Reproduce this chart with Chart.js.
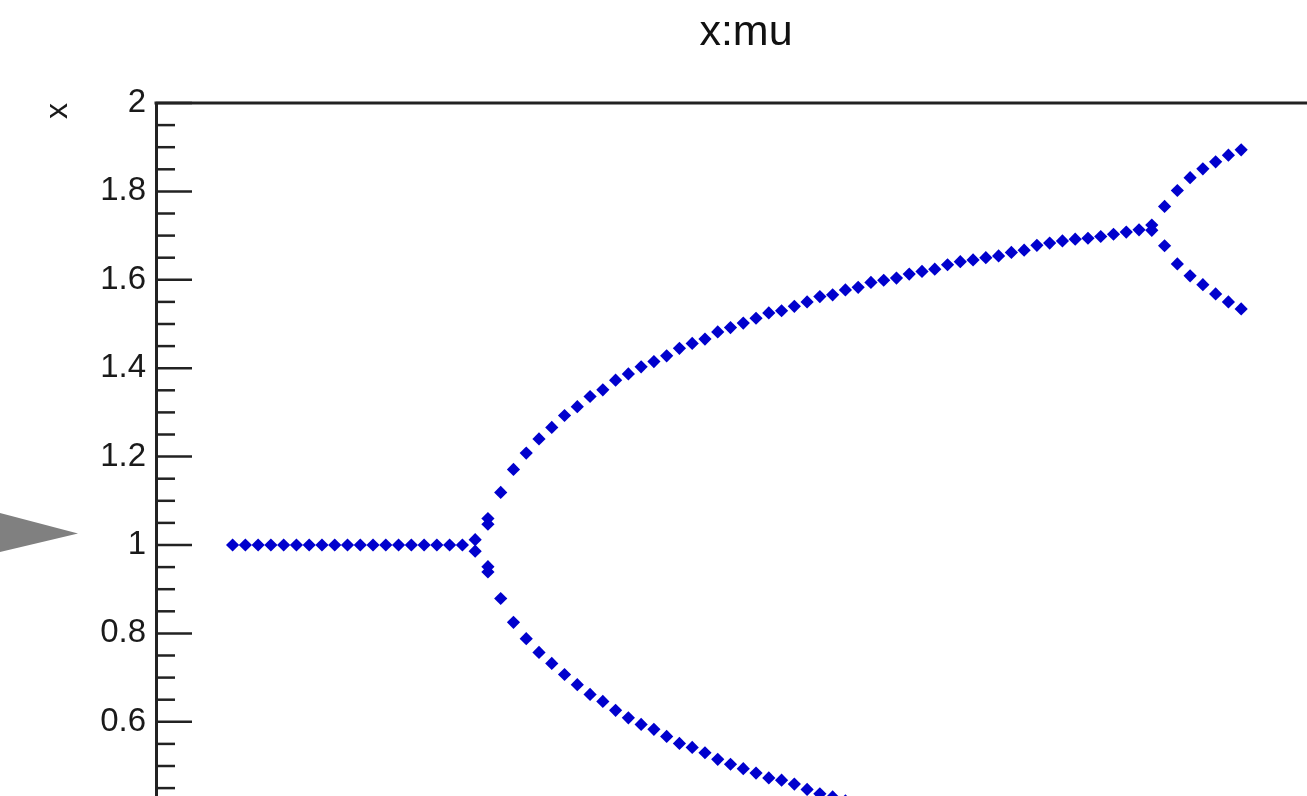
<!DOCTYPE html>
<html>
<head>
<meta charset="utf-8">
<title>x:mu</title>
<script src="https://cdn.jsdelivr.net/npm/chart.js@4/dist/chart.umd.min.js"></script>
<style>
  html, body { margin: 0; padding: 0; background: #fff; overflow: hidden; }
  canvas { display: block; }
</style>
</head>
<body>
<canvas id="bifChart" width="1492" height="1100"></canvas>
<script>
// single stable branch, x = 1
const muStable = [1.81, 1.82, 1.83, 1.84, 1.85, 1.86, 1.87, 1.88, 1.89, 1.90,
                  1.91, 1.92, 1.93, 1.94, 1.95, 1.96, 1.97, 1.98, 1.99];
const xStable  = [1, 1, 1, 1, 1, 1, 1, 1, 1, 1, 1, 1, 1, 1, 1, 1, 1, 1, 1];

// period-2 branches
const muUpper = [2.00, 2.01, 2.02, 2.03, 2.04, 2.05, 2.06, 2.07, 2.08, 2.09,
                 2.10, 2.11, 2.12, 2.13, 2.14, 2.15, 2.16, 2.17, 2.18, 2.19,
                 2.20, 2.21, 2.22, 2.23, 2.24, 2.25, 2.26, 2.27, 2.28, 2.29,
                 2.30, 2.31, 2.32, 2.33, 2.34, 2.35, 2.36, 2.37, 2.38, 2.39,
                 2.40, 2.41, 2.42, 2.43, 2.44, 2.45, 2.46, 2.47, 2.48, 2.49,
                 2.50, 2.51, 2.52, 2.53];
const xUpper  = [1.012, 1.060, 1.119, 1.171, 1.208, 1.240, 1.266, 1.293, 1.313, 1.336,
                 1.351, 1.373, 1.387, 1.403, 1.415, 1.428, 1.445, 1.456, 1.466, 1.482,
                 1.492, 1.502, 1.513, 1.525, 1.530, 1.540, 1.550, 1.562, 1.566, 1.577,
                 1.583, 1.594, 1.599, 1.604, 1.613, 1.619, 1.624, 1.634, 1.641, 1.645,
                 1.650, 1.654, 1.662, 1.667, 1.678, 1.683, 1.688, 1.692, 1.694, 1.698,
                 1.703, 1.708, 1.713, 1.724];

const muLower = [2.00, 2.01, 2.02, 2.03, 2.04, 2.05, 2.06, 2.07, 2.08, 2.09,
                 2.10, 2.11, 2.12, 2.13, 2.14, 2.15, 2.16, 2.17, 2.18, 2.19,
                 2.20, 2.21, 2.22, 2.23, 2.24, 2.25, 2.26, 2.27, 2.28, 2.29];
const xLower  = [0.986, 0.939, 0.879, 0.825, 0.788, 0.757, 0.732, 0.707, 0.684, 0.662,
                 0.646, 0.626, 0.609, 0.594, 0.583, 0.567, 0.551, 0.542, 0.530, 0.515,
                 0.504, 0.494, 0.484, 0.473, 0.468, 0.459, 0.447, 0.437, 0.430, 0.421];

// points that have not settled yet next to the splits
const muExtra = [2.01, 2.01, 2.53];
const xExtra  = [1.047, 0.951, 1.712];

// period-4 branches (upper pair)
const muP4   = [2.54, 2.55, 2.56, 2.57, 2.58, 2.59, 2.60];
const xP4Hi  = [1.766, 1.802, 1.831, 1.851, 1.867, 1.882, 1.894];
const xP4Lo  = [1.677, 1.636, 1.609, 1.589, 1.568, 1.550, 1.534];

const yTickLabels = ['0', '0.2', '0.4', '0.6', '0.8', '1', '1.2', '1.4', '1.6', '1.8', '2'];

const FONT = "'Liberation Sans', Arial, Helvetica, sans-serif";
const AXIS_COLOR = '#222';
const MARKER = 'rgb(0, 0, 205)';

function pts(xs, ys) {
  return xs.map((m, i) => ({ x: m, y: ys[i] }));
}

const allPoints = [].concat(
  pts(muStable, xStable),
  pts(muUpper, xUpper),
  pts(muLower, xLower),
  pts(muExtra, xExtra),
  pts(muP4, xP4Hi),
  pts(muP4, xP4Lo)
);

// frame line on top, inner ticks on the y axis, and the grey pointer on the left
const framePlugin = {
  id: 'frame',
  beforeDatasetsDraw(chart) {
    const { ctx, chartArea } = chart;
    const y = chart.scales.y;
    ctx.save();
    ctx.strokeStyle = AXIS_COLOR;
    ctx.lineWidth = 3;
    ctx.beginPath();
    ctx.moveTo(chartArea.left - 1.5, chartArea.top);
    ctx.lineTo(chartArea.right, chartArea.top);
    ctx.stroke();

    ctx.lineWidth = 2.5;
    for (let k = 0; k <= 40; k++) {
      const py = y.getPixelForValue(k * 0.05);
      const len = k % 4 === 0 ? 36 : 19;
      ctx.beginPath();
      ctx.moveTo(chartArea.left, py);
      ctx.lineTo(chartArea.left + len, py);
      ctx.stroke();
    }
    ctx.restore();
  },
  afterDraw(chart) {
    const ctx = chart.ctx;
    ctx.save();
    ctx.fillStyle = '#808080';
    ctx.beginPath();
    ctx.moveTo(-2, 512.5);
    ctx.lineTo(78, 533.5);
    ctx.lineTo(-2, 552.5);
    ctx.closePath();
    ctx.fill();
    ctx.restore();
  }
};

new Chart(document.getElementById('bifChart'), {
  type: 'scatter',
  data: {
    datasets: [{
      label: 'x:mu',
      data: allPoints,
      pointStyle: 'rectRot',
      pointRadius: 6.6,
      pointBorderWidth: 0,
      backgroundColor: MARKER,
      borderColor: MARKER
    }]
  },
  options: {
    responsive: false,
    animation: false,
    devicePixelRatio: 1,
    layout: { padding: { left: 0, right: 0, top: 0, bottom: 113 } },
    plugins: {
      legend: { display: false },
      tooltip: { enabled: false },
      title: {
        display: true,
        text: 'x:mu',
        color: '#111',
        font: { family: FONT, size: 43, weight: 'normal' },
        padding: { top: 7, bottom: 44.4 }
      }
    },
    scales: {
      x: {
        type: 'linear',
        display: false,
        min: 1.75,
        max: 2.7913
      },
      y: {
        type: 'linear',
        min: 0,
        max: 2,
        afterFit(scale) { scale.width = 156; },
        grid: { display: false, drawTicks: false },
        border: { display: true, color: AXIS_COLOR, width: 3 },
        ticks: {
          stepSize: 0.2,
          autoSkip: false,
          padding: 10,
          color: '#1a1a1a',
          font: { family: FONT, size: 33 },
          callback: (v) => yTickLabels[Math.round(v / 0.2)]
        },
        title: {
          display: true,
          text: 'x',
          align: 'end',
          color: '#1a1a1a',
          font: { family: FONT, size: 32 },
          padding: { top: 39, bottom: 0 }
        }
      }
    }
  },
  plugins: [framePlugin]
});
</script>
</body>
</html>
